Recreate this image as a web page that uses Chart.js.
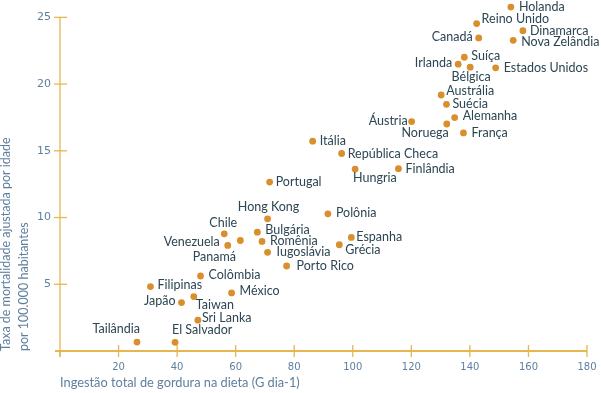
<!DOCTYPE html>
<html>
<head>
<meta charset="utf-8">
<script src="https://cdn.jsdelivr.net/npm/chart.js@4"></script>
<style>
  html, body { margin: 0; padding: 0; background: #ffffff; }
  #wrap { width: 601px; height: 393px; }
</style>
</head>
<body>
<div id="wrap"><canvas id="fat_chart" width="601" height="393"></canvas></div>
<script>
// countries, fat intake (g/day) and age-adjusted mortality per 100,000
const countries = ['Holanda', 'Reino Unido', 'Canadá', 'Dinamarca', 'Nova Zelândia', 'Suíça', 'Irlanda', 'Bélgica',
  'Estados Unidos', 'Austrália', 'Suécia', 'Alemanha', 'Noruega', 'Áustria', 'França', 'Itália', 'República Checa',
  'Hungria', 'Finlândia', 'Portugal', 'Hong Kong', 'Chile', 'Bulgária', 'Panamá', 'Romênia', 'Venezuela',
  'Iugoslávia', 'Porto Rico', 'Colômbia', 'Filipinas', 'México', 'Taiwan', 'Japão', 'Sri Lanka', 'Tailândia',
  'El Salvador', 'Polônia', 'Espanha', 'Grécia']
const fat_intake = [154.0, 142.3, 143.0, 158.1, 154.8, 138.1, 136.0, 140.1,
  148.8, 130.2, 132.0, 134.8, 132.1, 120.1, 137.8, 86.3, 96.2,
  100.8, 115.6, 71.6, 70.9, 56.1, 67.4, 61.6, 69.0, 57.3,
  70.9, 77.4, 48.0, 30.9, 58.6, 45.7, 41.5, 47.1, 26.3,
  39.3, 91.5, 99.5, 95.4]
const mortality = [25.77, 24.53, 23.46, 24.0, 23.28, 22.01, 21.49, 21.27,
  21.22, 19.18, 18.48, 17.49, 17.01, 17.19, 16.34, 15.72, 14.80,
  13.63, 13.66, 12.66, 9.90, 8.78, 8.90, 8.28, 8.21, 7.91,
  7.39, 6.37, 5.62, 4.83, 4.35, 4.08, 3.63, 2.31, 0.67,
  0.65, 10.28, 8.51, 7.96]
const x_ticks = [0, 20, 40, 60, 80, 100, 120, 140, 160, 180]
const y_ticks = [0, 5, 10, 15, 20, 25]

// where each name sits next to its dot: [align, dx, dy]
const label_place = {
  'Holanda': ['left', 8, 0], 'Reino Unido': ['left', 5, -5], 'Canadá': ['right', -6, -1],
  'Dinamarca': ['left', 7, 0], 'Nova Zelândia': ['left', 8, 2], 'Suíça': ['left', 7, -1],
  'Irlanda': ['right', -6, -1], 'Bélgica': ['center', 1, 10], 'Estados Unidos': ['left', 8, 0],
  'Austrália': ['left', 5, -4], 'Suécia': ['left', 6, 0], 'Alemanha': ['left', 8, -2],
  'Noruega': ['right', 2, 9], 'Áustria': ['right', -4, -1], 'França': ['left', 8, 0],
  'Itália': ['left', 7, 0], 'República Checa': ['left', 6, 0], 'Hungria': ['left', -2, 9],
  'Finlândia': ['left', 7, 0], 'Portugal': ['left', 6, 0], 'Hong Kong': ['center', 1, -12],
  'Chile': ['center', -1, -11], 'Bulgária': ['left', 8, -2], 'Panamá': ['center', -26, 16],
  'Romênia': ['left', 8, 0], 'Venezuela': ['right', -8, -3], 'Iugoslávia': ['left', 9, 0],
  'Porto Rico': ['left', 10, 0], 'Colômbia': ['left', 8, -1], 'Filipinas': ['left', 7, -2],
  'México': ['left', 8, -2], 'Taiwan': ['left', 2, 8], 'Japão': ['right', -6, -2],
  'Sri Lanka': ['left', 4, -2], 'Tailândia': ['right', 3, -13], 'El Salvador': ['left', -3, -12],
  'Polônia': ['left', 8, -1], 'Espanha': ['left', 5, 0], 'Grécia': ['left', 6, 5]
}

const axis_color = '#e6b64f'
const tick_color = '#5e7f9e'
const label_color = '#2c4653'
const dot_color = '#d98f2c'

const points = fat_intake.map((v, i) => ({x: v, y: mortality[i]}))

// axes and crossing tick marks drawn through the chart's scales
const axes_plugin = {
  id: 'axes_plugin',
  beforeDatasetsDraw(chart) {
    const ctx = chart.ctx
    const xs = chart.scales.x
    const ys = chart.scales.y
    const y0 = ys.getPixelForValue(0)
    const x0 = xs.getPixelForValue(0)
    ctx.save()
    ctx.strokeStyle = axis_color
    ctx.lineWidth = 1.3
    ctx.beginPath()
    ctx.moveTo(x0, ys.getPixelForValue(25))
    ctx.lineTo(x0, y0 + 6)
    ctx.stroke()
    y_ticks.forEach(t => {
      if (t === 0) return
      const py = ys.getPixelForValue(t)
      ctx.beginPath()
      ctx.moveTo(x0 - 6, py)
      ctx.lineTo(x0 + 7, py)
      ctx.stroke()
    })
    ctx.lineWidth = 2.2
    ctx.beginPath()
    ctx.moveTo(x0 - 5, y0)
    ctx.lineTo(xs.getPixelForValue(180), y0)
    ctx.stroke()
    ctx.lineWidth = 1.3
    x_ticks.forEach(t => {
      const px = xs.getPixelForValue(t)
      ctx.beginPath()
      ctx.moveTo(px, t === 0 ? y0 : y0 - 6)
      ctx.lineTo(px, y0 + 6)
      ctx.stroke()
    })
    ctx.restore()
  }
}

// country names beside the dots
const names_plugin = {
  id: 'names_plugin',
  afterDatasetsDraw(chart) {
    const ctx = chart.ctx
    const meta = chart.getDatasetMeta(0)
    ctx.save()
    ctx.font = '12.5px Lato'
    ctx.fillStyle = label_color
    ctx.textBaseline = 'middle'
    meta.data.forEach((pt, i) => {
      const place = label_place[countries[i]] || ['left', 7, 0]
      ctx.textAlign = place[0]
      ctx.fillText(countries[i], pt.x + place[1], pt.y + place[2])
    })
    ctx.restore()
  }
}

const ctx = document.getElementById('fat_chart').getContext('2d')

const fat_chart = new Chart(ctx, {
  type: 'scatter',
  data: {
    datasets: [{
      data: points,
      backgroundColor: dot_color,
      borderColor: dot_color,
      pointRadius: 3.4,
      borderWidth: 0,
      clip: false
    }]
  },
  options: {
    responsive: false,
    animation: false,
    layout: {padding: {top: 3, right: 14, bottom: 1, left: 0}},
    plugins: {
      legend: {display: false},
      tooltip: {enabled: false}
    },
    scales: {
      x: {
        type: 'linear',
        min: 0,
        max: 180,
        afterBuildTicks: axis => { axis.ticks = x_ticks.map(v => ({value: v})) },
        afterFit: axis => {
          axis.height = 41
          axis.paddingLeft = 0
          axis.paddingRight = 0
        },
        grid: {display: false, drawTicks: false},
        border: {display: false},
        ticks: {
          color: tick_color,
          font: {family: 'DejaVu Sans', size: 10},
          padding: 10,
          callback: v => v === 0 ? '' : v
        },
        title: {
          display: true,
          align: 'start',
          text: 'Ingestão total de gordura na dieta (G dia-1)',
          color: tick_color,
          font: {family: 'Lato', size: 12.8},
          padding: {top: 0, bottom: 1}
        }
      },
      y: {
        type: 'linear',
        min: 0,
        max: 26,
        afterBuildTicks: axis => { axis.ticks = y_ticks.map(v => ({value: v})) },
        afterFit: axis => {
          axis.width = 60
          axis.paddingTop = 0
          axis.paddingBottom = 0
        },
        grid: {display: false, drawTicks: false},
        border: {display: false},
        ticks: {
          color: tick_color,
          font: {family: 'DejaVu Sans', size: 11},
          padding: 9,
          callback: v => v === 0 ? '' : v
        },
        title: {
          display: true,
          align: 'start',
          text: ['Taxa de mortalidade ajustada por idade', 'por 100.000 habitantes'],
          color: tick_color,
          font: {family: 'Lato', size: 12.5, lineHeight: 1.45},
          padding: {top: -3, bottom: 0}
        }
      }
    }
  },
  plugins: [axes_plugin, names_plugin]
})
</script>
</body>
</html>
